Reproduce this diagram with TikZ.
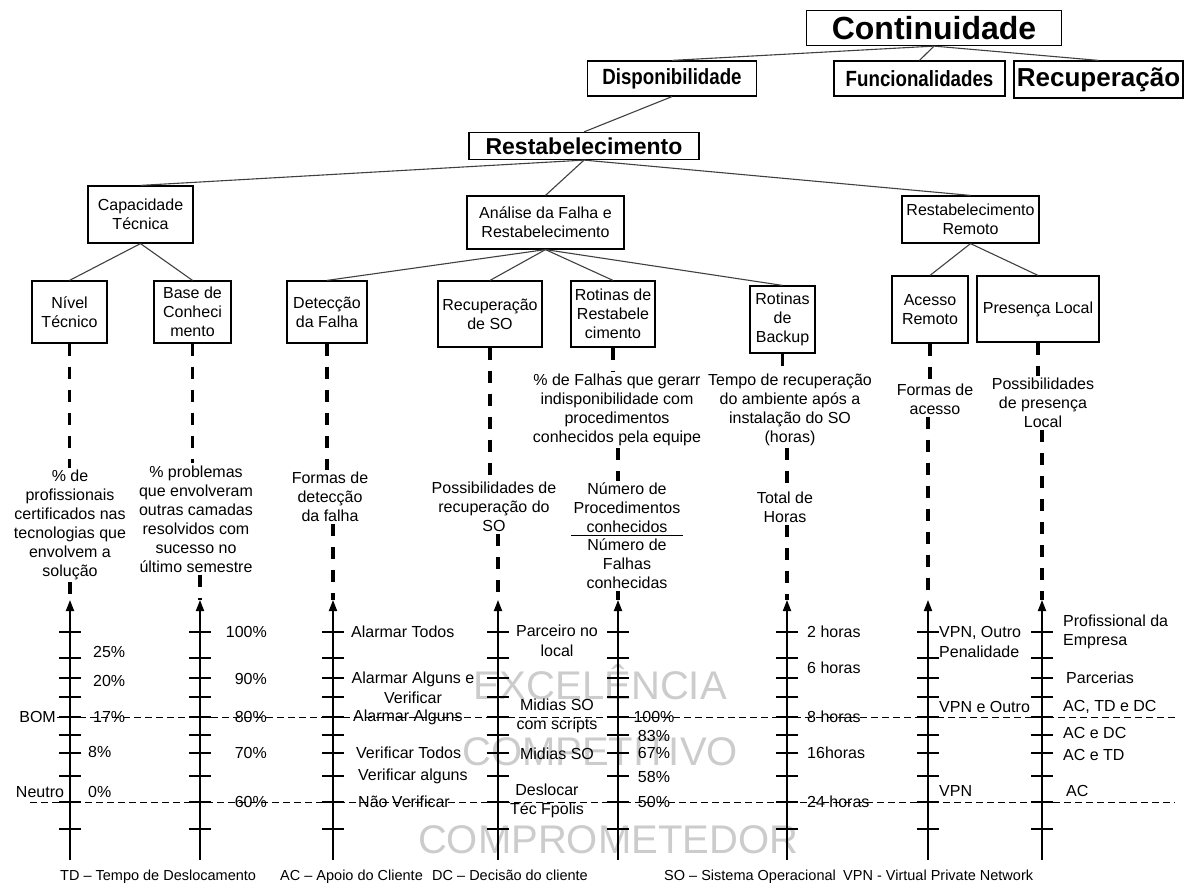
\documentclass[tikz,border=0pt]{standalone}
\usepackage{fontspec}
\setmainfont{Liberation Sans}
\newfontfamily\narrowfont{Liberation Sans}[FakeStretch=0.85]
\usetikzlibrary{arrows.meta}
\newcommand\fsz[2]{\fontsize{#1}{#2}\selectfont}

\begin{document}
\begin{tikzpicture}[x=1pt,y=-1pt,
    tbox/.style={draw,line width=1.2pt,align=center,inner sep=1pt,font=\fsz{16}{19}},
    tline/.style={line width=1.1pt,black!75},
    vdash/.style={line width=3.2pt,dash pattern=on 12pt off 11pt},
    axis/.style={line width=1.8pt,-{Triangle[width=8pt,length=11pt]}},
    hdash/.style={line width=1pt,dash pattern=on 7pt off 4pt},
    ind/.style={align=center,inner sep=2pt,font=\fsz{16}{19}},
    lbl/.style={inner sep=1pt,font=\fsz{16}{19.5}},
    wmark/.style={black!20,inner sep=0pt,font=\fsz{40}{40}}]
        \useasboundingbox (0,0) rectangle (1190,886);

        % Watermark
        \node[wmark] (wm1) at (600,682) {EXCELÊNCIA};
        \node[wmark] (wm2) at (600,752) {COMPETITIVO};
        \node[wmark] (wm3) at (608,840) {COMPROMETEDOR};

        % Tree
        \node[tbox,font=\fsz{32}{34}\bfseries,minimum width=255pt,minimum height=35pt] (cont) at (934,28) {Continuidade};
        \node[tbox,font=\narrowfont\fsz{22}{24}\bfseries,minimum width=169pt,minimum height=35pt] (disp) at (672,78.5) {Disponibilidade};
        \node[tbox,font=\narrowfont\fsz{22}{24}\bfseries,minimum width=171pt,minimum height=35pt] (func) at (919.5,78.5) {Funcionalidades};
        \node[tbox,font=\fsz{26}{28}\bfseries,minimum width=169pt,minimum height=37pt] (recup) at (1098.5,79.5) {Recuperação};
        \node[tbox,font=\fsz{23}{25}\bfseries,minimum width=230pt,minimum height=27pt] (rest) at (584,146) {Restabelecimento};

        \node[tbox,minimum width=105pt,minimum height=57pt] (cap) at (140.5,214.5) {Capacidade\\Técnica};
        \node[tbox,minimum width=157pt,minimum height=53pt] (anal) at (545.5,222.5) {Análise da Falha e\\Restabelecimento};
        \node[tbox,minimum width=137pt,minimum height=47pt] (rr) at (970.5,219.5) {Restabelecimento\\Remoto};

        \node[tbox,minimum width=75pt,minimum height=62pt] (nivel) at (69.5,312) {Nível\\Técnico};
        \node[tbox,minimum width=77pt,minimum height=62pt] (base) at (192.5,312) {Base de\\Conheci\\mento};
        \node[tbox,minimum width=80pt,minimum height=62pt] (detec) at (327,312) {Detecção\\da Falha};
        \node[tbox,minimum width=104pt,minimum height=66pt] (recso) at (490,314) {Recuperação\\de SO};
        \node[tbox,minimum width=84pt,minimum height=66pt] (rotrest) at (613,314) {Rotinas de\\Restabele\\cimento};
        \node[tbox,minimum width=65pt,minimum height=67pt] (backup) at (782.5,319.5) {Rotinas\\de\\Backup};
        \node[tbox,minimum width=76pt,minimum height=67pt] (acesso) at (930,309.5) {Acesso\\Remoto};
        \node[tbox,minimum width=122pt,minimum height=66pt] (presenca) at (1038,309) {Presença Local};

        \draw[tline] (cont.south) -- (disp.north);
        \draw[tline] (cont.south) -- (func.north);
        \draw[tline] (cont.south) -- (recup.north);
        \draw[tline] (disp.south) -- (rest.north);
        \foreach \c in {cap,anal,rr}
            \draw[tline] (rest.south) -- (\c.north);
        \foreach \c in {nivel,base}
            \draw[tline] (cap.south) -- (\c.north);
        \foreach \c in {detec,recso,rotrest,backup}
            \draw[tline] (anal.south) -- (\c.north);
        \foreach \c in {acesso,presenca}
            \draw[tline] (rr.south) -- (\c.north);

        % Indicators
        \node[ind] (i1) at (70,525) {\% de\\profissionais\\certificados nas\\tecnologias que\\envolvem a\\solução};
        \node[ind] (i2) at (196,519) {\% problemas\\que envolveram\\outras camadas\\resolvidos com\\sucesso no\\último semestre};
        \node[ind] (i3) at (330,497) {Formas de\\detecção\\da falha};
        \node[ind] (i4) at (494,507) {Possibilidades de\\recuperação do\\SO};
        \node[ind] (i5) at (617,410) {\% de Falhas que gerarr\\indisponibilidade com\\procedimentos\\conhecidos pela equipe};
        \node[ind,anchor=south] (num) at (627,535) {Número de\\Procedimentos\\conhecidos};
        \node[ind,anchor=north] (den) at (627,537) {Número de\\Falhas\\conhecidas};
        \draw[line width=1pt] (num.south west) -- (num.south east);
        \node[ind] (i6) at (790,410) {Tempo de recuperação\\do ambiente após a\\instalação do SO\\(horas)};
        \node[ind] (i6b) at (785,507) {Total de\\Horas};
        \node[ind] (i7) at (935,399) {Formas de\\acesso};
        \node[ind] (i8) at (1043,403) {Possibilidades\\de presença\\Local};

        % Scales
        \foreach \n/\x in {1/70,2/200,3/333,4/498,5/618,6/787,7/928,8/1042} {
            \coordinate (a\n) at (\x,600);
            \coordinate (b\n) at (\x,860);
            \draw[axis] (b\n) -- (a\n);
            \foreach \y in {632,658,678,697,717,735,753,776,802,829}
                \draw[line width=1.3pt] (\x-11,\y) -- (\x+11,\y);
        }

        \draw[vdash] (nivel.south) -- (nivel.south |- i1.north);
        \draw[vdash] (i1.south -| a1) -- (a1);
        \draw[vdash] (base.south) -- (base.south |- i2.north);
        \draw[vdash] (i2.south -| a2) -- (a2);
        \draw[vdash] (detec.south) -- (detec.south |- i3.north);
        \draw[vdash] (i3.south -| a3) -- (a3);
        \draw[vdash] (recso.south) -- (recso.south |- i4.north);
        \draw[vdash] (i4.south -| a4) -- (a4);
        \draw[vdash] (rotrest.south) -- (rotrest.south |- i5.north);
        \draw[vdash] (i5.south -| a5) -- (a5 |- num.north);
        \draw[vdash] (den.south -| a5) -- (a5);
        \draw[vdash] (backup.south) -- (backup.south |- i6.north);
        \draw[vdash] (i6.south -| a6) -- (a6 |- i6b.north);
        \draw[vdash] (i6b.south -| a6) -- (a6);
        \draw[vdash] (acesso.south) -- (acesso.south |- i7.north);
        \draw[vdash] (i7.south -| a7) -- (a7);
        \draw[vdash] (presenca.south) -- (presenca.south |- i8.north);
        \draw[vdash] (i8.south -| a8) -- (a8);

        % Scale labels
        \node[lbl,anchor=east] (bom) at (57,717) {BOM};
        \node[lbl] (neutro) at (40,792) {Neutro};
        \foreach \t/\x/\y [count=\k] in {25\%/92/652, 20\%/92/681, 17\%/92/717, 8\%/87/752, 0\%/87/792}
            \node[lbl,anchor=west] (s1l\k) at (\x,\y) {\t};
        \foreach \t/\y [count=\k] in {100\%/632, 90\%/679, 80\%/717, 70\%/753, 60\%/802}
            \node[lbl,anchor=east] (s2l\k) at (268,\y) {\t};
        \node[lbl,anchor=west] (s3l1) at (350,632) {Alarmar Todos};
        \node[lbl,align=center] (s3l2) at (413,688) {Alarmar Alguns e\\Verificar};
        \foreach \t/\x/\y [count=\k from 3] in {Alarmar Alguns/352/717, Verificar Todos/355/753, Verificar alguns/357/776, Não Verificar/357/802}
            \node[lbl,anchor=west] (s3l\k) at (\x,\y) {\t};
        \node[lbl,align=center] (s4l1) at (557,641) {Parceiro no\\local};
        \node[lbl,align=center] (s4l2) at (557,716) {Midias SO\\com scripts};
        \node[lbl,align=center] (s4l3) at (557,754) {Midias SO};
        \node[lbl,align=center] (s4l4) at (547,801) {Deslocar\\Téc Fpolis};
        \foreach \t/\y [count=\k] in {100\%/717, 83\%/736, 67\%/753, 58\%/777, 50\%/802}
            \node[lbl] (s5l\k) at (654,\y) {\t};
        \foreach \t/\y [count=\k] in {2 horas/632, 6 horas/668, 8 horas/717, 16horas/753, 24 horas/802}
            \node[lbl,anchor=west] (s6l\k) at (806,\y) {\t};
        \node[lbl,anchor=west,align=left] (s7l1) at (938,642) {VPN, Outro\\Penalidade};
        \node[lbl,anchor=west] (s7l2) at (938,707) {VPN e Outro};
        \node[lbl,anchor=west] (s7l3) at (938,791) {VPN};
        \node[lbl,anchor=west,align=left] (s8l1) at (1062,632) {Profissional da\\Empresa};
        \foreach \t/\x/\y [count=\k from 2] in {Parcerias/1065/678, {AC, TD e DC}/1062/707, AC e DC/1062/733, AC e TD/1062/755, AC/1065/791}
            \node[lbl,anchor=west] (s8l\k) at (\x,\y) {\t};

        % Reference levels
        \coordinate (bomR) at (1175,717);
        \coordinate (neuL) at (30,802);
        \coordinate (neuR) at (1175,802);
        \draw[hdash] (bom.east) -- (bomR);
        \draw[hdash] (neuL) -- (neuR);

        % Legend
        \foreach \t/\x [count=\k] in {TD – Tempo de Deslocamento/60, AC – Apoio do Cliente/280, DC – Decisão do cliente/432, SO – Sistema Operacional/664, VPN - Virtual Private Network/843}
            \node[anchor=base west,inner sep=0pt,font=\fsz{14.5}{17}] (leg\k) at (\x,880) {\t};
    \end{tikzpicture}
\end{document}
